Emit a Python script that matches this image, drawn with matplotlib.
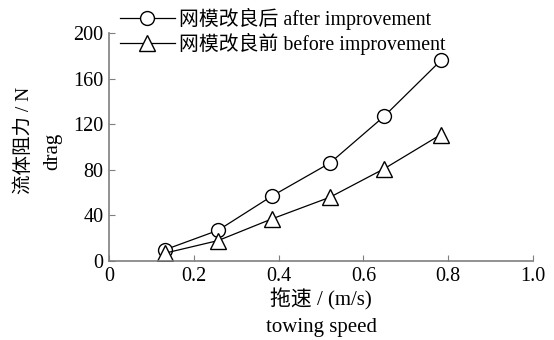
import matplotlib
matplotlib.use('Agg')
import matplotlib.pyplot as plt

# data
speed = [0.132, 0.257, 0.384, 0.521, 0.649, 0.783]
drag_after = [10, 27, 57, 86, 127, 176]
drag_before = [7, 18, 37, 56, 81, 111]

plt.rcParams['font.family'] = ['Liberation Serif', 'Noto Sans CJK SC']
plt.rcParams['font.size'] = 14.5

fig = plt.figure(figsize=(5.54, 3.4), dpi=100)
ax = fig.add_axes([0.197, 0.232, 0.765, 0.671])

ax.plot(speed, drag_after, color='black', lw=0.9, marker='o', ms=10,
        mfc='white', mec='black', mew=1.0, label='网模改良后 after improvement')
ax.plot(speed, drag_before, color='black', lw=0.9, marker='^', ms=11,
        mfc='white', mec='black', mew=1.0, label='网模改良前 before improvement')

ax.set_xlim(0, 1.0)
ax.set_ylim(0, 200)
ax.set_xticks([0, 0.2, 0.4, 0.6, 0.8, 1.0])
ax.set_xticklabels(['0', '0.2', '0.4', '0.6', '0.8', '1.0'])
ax.set_yticks([0, 40, 80, 120, 160, 200])

for s in ['top', 'right']:
    ax.spines[s].set_visible(False)
for s in ['left', 'bottom']:
    ax.spines[s].set_color('#7f7f7f')
    ax.spines[s].set_linewidth(1.2)
ax.tick_params(direction='in', length=4, color='#7f7f7f', pad=4)

fig.text(0.58, 0.118, '拖速 / (m/s)', ha='center', va='center', fontsize=15)
fig.text(0.58, 0.038, 'towing speed', ha='center', va='center', fontsize=15)
fig.text(0.042, 0.588, '流体阻力 / N', ha='center', va='center',
         rotation=90, fontsize=14)
fig.text(0.095, 0.556, 'drag', ha='center', va='center', rotation=90,
         fontsize=15)

fig.legend(loc='upper left', bbox_to_anchor=(0.215, 0.98), frameon=False,
           fontsize=14.3, handlelength=2.75, handletextpad=0.2,
           labelspacing=0.15, borderaxespad=0, borderpad=0.05)

fig.savefig('out.png', dpi=100)
